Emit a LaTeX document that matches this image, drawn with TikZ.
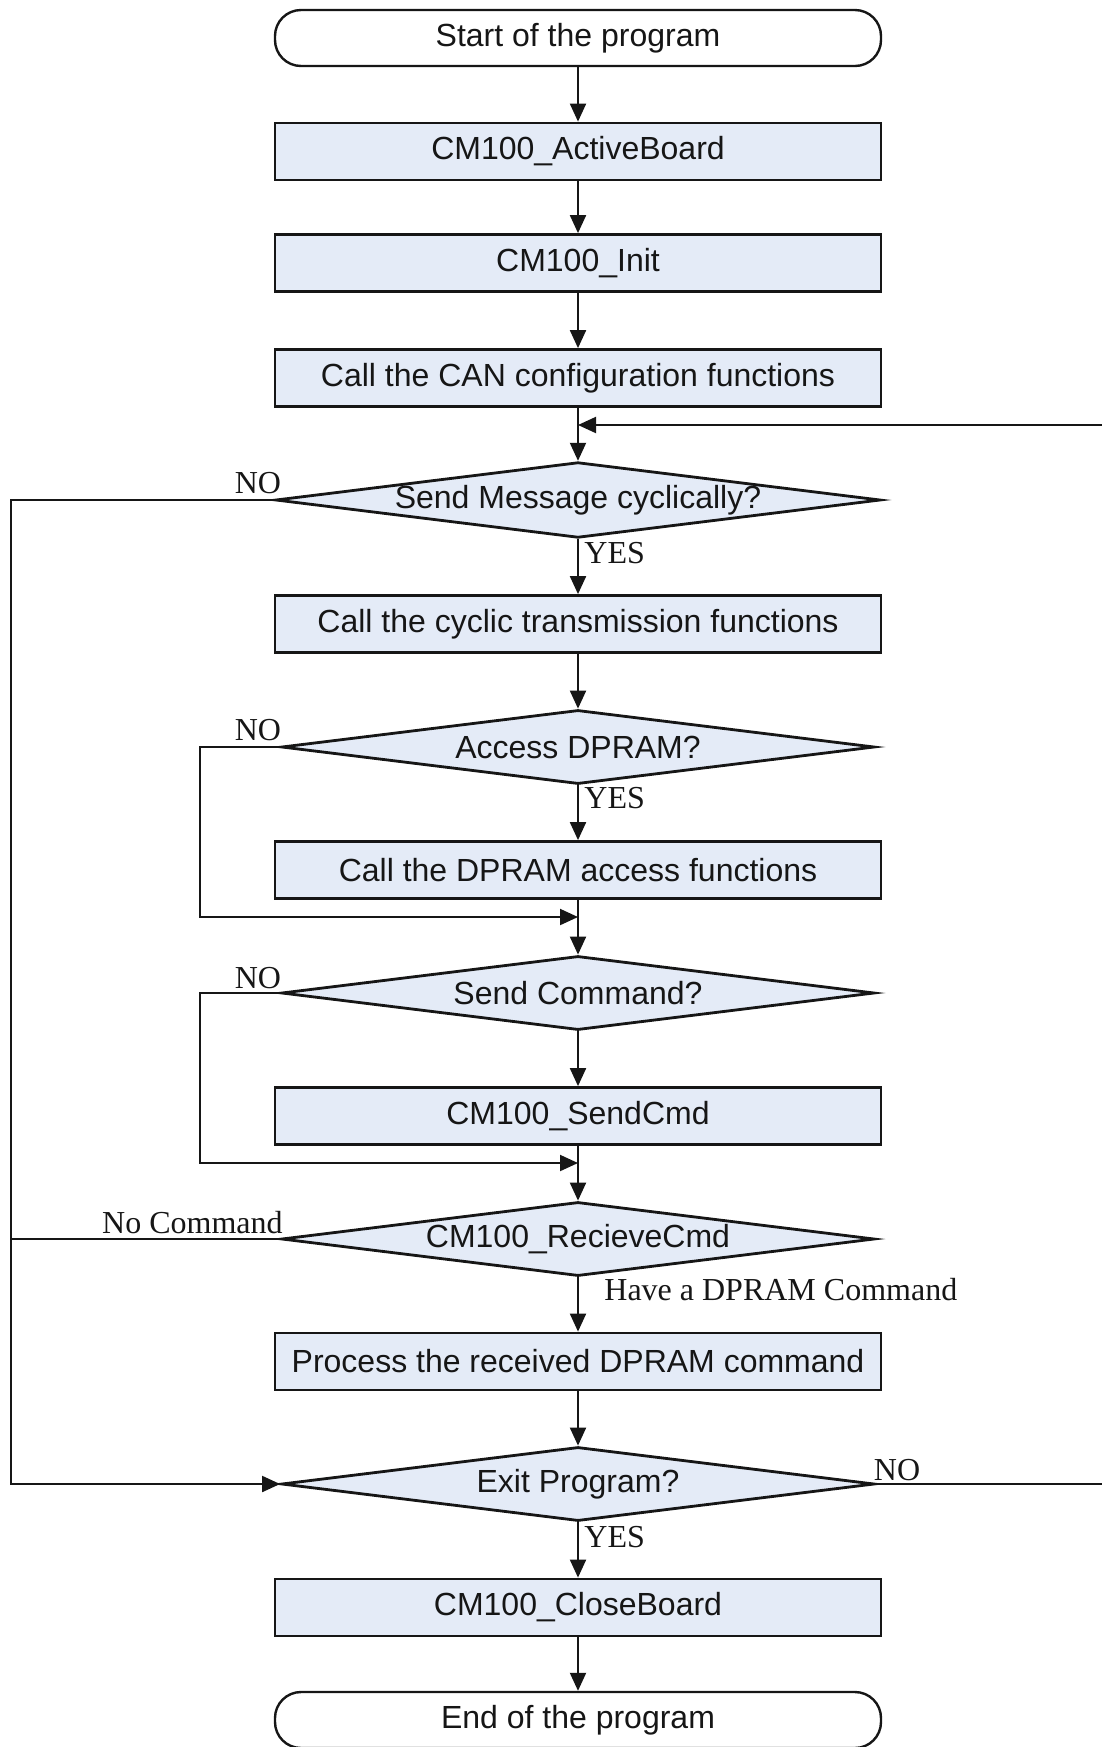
\documentclass[tikz,border=0pt]{standalone}
\usepackage{fontspec}
\setmainfont{Liberation Sans}
\newfontfamily\labelfont{Liberation Serif}
\usetikzlibrary{shapes.geometric,arrows.meta}
\definecolor{boxfill}{RGB}{228,235,247}
\definecolor{inkc}{RGB}{22,22,22}
\begin{document}
\begin{tikzpicture}[x=0.5pt,y=-0.5pt,
  every node/.style={font=\fontsize{16}{19}\selectfont, text=inkc},
  procbox/.style={draw=inkc, line width=1.4pt, fill=boxfill, minimum width=303pt, minimum height=28.5pt, inner sep=0pt},
  termbox/.style={draw=inkc, line width=1.2pt, fill=white, rounded corners=13pt, minimum width=303pt, minimum height=28pt, inner sep=0pt},
  decbox/.style={draw=inkc, line width=1.4pt, fill=boxfill, diamond, aspect=8, minimum width=296.5pt, minimum height=37pt, inner sep=0pt},
  flow/.style={draw=inkc, line width=1pt, -{Triangle[length=9pt,width=8pt]}},
  plain/.style={draw=inkc, line width=1pt},
  lbl/.style={font=\labelfont\fontsize{16}{19}\selectfont, inner sep=0pt},
]
\useasboundingbox (0,0) rectangle (1102,1747);
\clip (0,0) rectangle (1102,1747);

% nodes
\node[termbox] (start) at (578,38) {Start of the program};
\node[procbox] (act) at (578,151.5) {CM100\_ActiveBoard};
\node[procbox] (init) at (578,263) {CM100\_Init};
\node[procbox] (can) at (578,378) {Call the CAN configuration functions};
\coordinate (j0) at (578,425);
\node[decbox] (d1) at (578,500) {Send Message cyclically?};
\node[procbox] (cyc) at (578,624) {Call the cyclic transmission functions};
\node[decbox] (d2) at (578,747) {Access DPRAM?};
\node[procbox] (dpr) at (578,870) {Call the DPRAM access functions};
\coordinate (j1) at (578,917);
\node[decbox] (d3) at (578,993) {Send Command?};
\node[procbox] (snd) at (578,1116) {CM100\_SendCmd};
\coordinate (j2) at (578,1163);
\node[decbox] (d4) at (578,1239) {CM100\_RecieveCmd};
\node[procbox] (proc) at (578,1361.5) {Process the received DPRAM command};
\node[decbox] (d5) at (578,1484) {Exit Program?};
\node[procbox] (close) at (578,1607.5) {CM100\_CloseBoard};
\node[termbox] (end) at (578,1720) {End of the program};

% routing coordinates
\coordinate (lftTop) at (11,500);
\coordinate (lftMid) at (11,1239);
\coordinate (lftBot) at (11,1484);
\coordinate (in1a) at (200,747);
\coordinate (in1b) at (200,917);
\coordinate (in2a) at (200,993);
\coordinate (in2b) at (200,1163);
\coordinate (rgtBot) at (1110,1484);
\coordinate (rgtTop) at (1110,425);

% main flow
\draw[flow] (start) -- (act);
\draw[flow] (act) -- (init);
\draw[flow] (init) -- (can);
\draw[plain] (can) -- (j0);
\draw[flow] (j0) -- (d1);
\draw[flow] (d1) -- (cyc);
\draw[flow] (cyc) -- (d2);
\draw[flow] (d2) -- (dpr);
\draw[plain] (dpr) -- (j1);
\draw[flow] (j1) -- (d3);
\draw[flow] (d3) -- (snd);
\draw[plain] (snd) -- (j2);
\draw[flow] (j2) -- (d4);
\draw[flow] (d4) -- (proc);
\draw[flow] (proc) -- (d5);
\draw[flow] (d5) -- (close);
\draw[flow] (close) -- (end);

% loops
\draw[flow] (d1.west) -- (lftTop) -- (lftBot) -- (d5.west);
\draw[plain] (d4.west) -- (lftMid);
\draw[flow] (d2.west) -- (in1a) -- (in1b) -- (j1);
\draw[flow] (d3.west) -- (in2a) -- (in2b) -- (j2);
\draw[flow] (d5.east) -- (rgtBot) -- (rgtTop) -- (j0);

% labels
\node[lbl] (no1) at (258,483) {NO};
\node[lbl, anchor=west] (yes1) at (584,553) {YES};
\node[lbl] (no2) at (258,730) {NO};
\node[lbl, anchor=west] (yes2) at (584,798) {YES};
\node[lbl] (no3) at (258,978) {NO};
\node[lbl, anchor=east] (nocmd) at (283,1223) {No Command};
\node[lbl, anchor=west] (have) at (604,1290) {Have a DPRAM Command};
\node[lbl] (no5) at (897,1470) {NO};
\node[lbl, anchor=west] (yes5) at (584,1537) {YES};
\end{tikzpicture}
\end{document}
